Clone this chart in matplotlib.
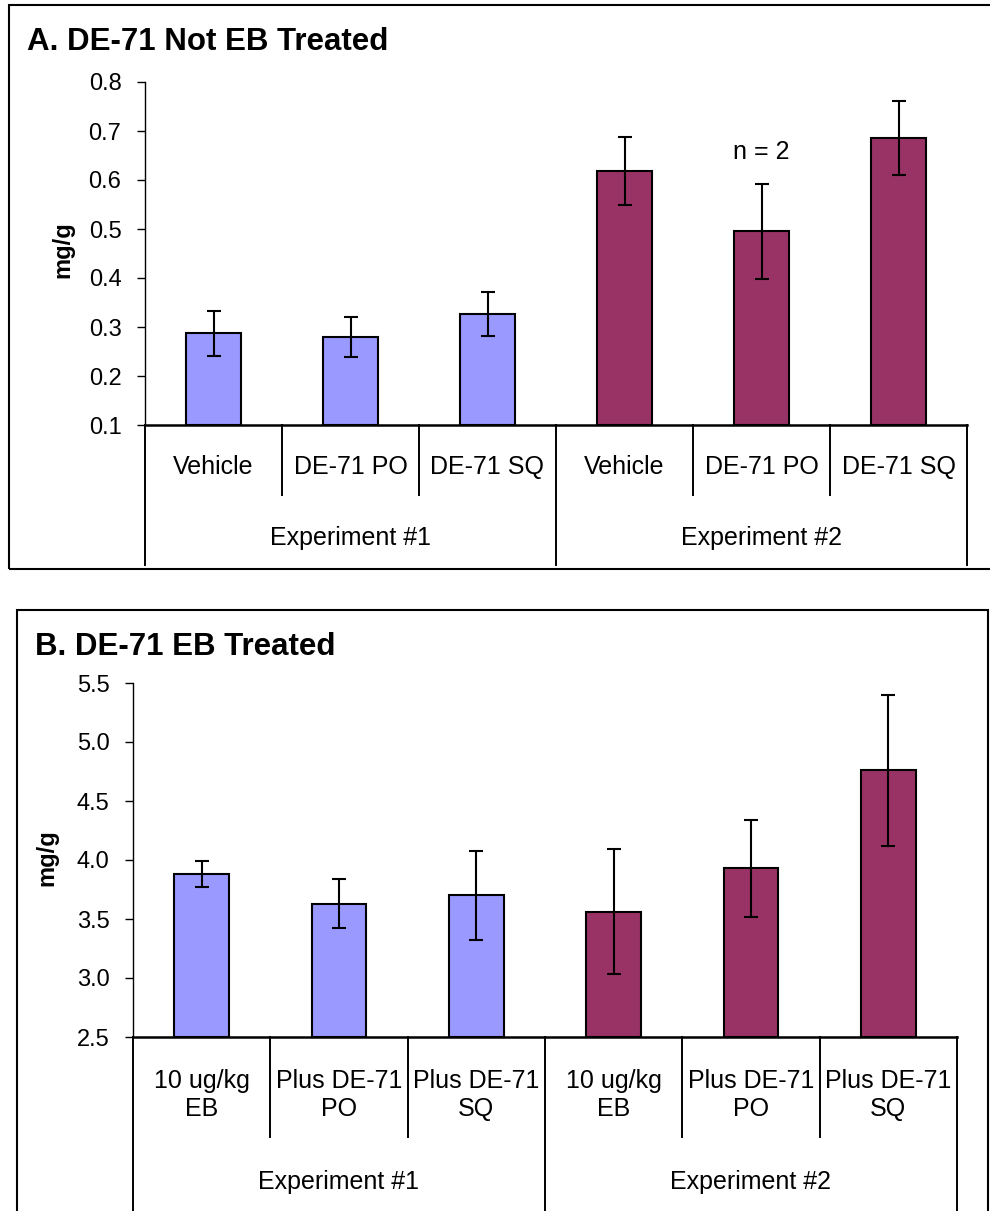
"""Uterine weight bar charts: DE-71 without and with EB treatment, two experiments."""
import numpy as np
import matplotlib
matplotlib.use("Agg")
import matplotlib.pyplot as plt
from matplotlib.patches import Rectangle

plt.rcParams["font.family"] = ["Liberation Sans", "DejaVu Sans"]

W, H = 990, 1211

# ---- data ----
groups = ["Experiment #1", "Experiment #2"]
cats_a = ["Vehicle", "DE-71 PO", "DE-71 SQ", "Vehicle", "DE-71 PO", "DE-71 SQ"]
mean_a = [0.287, 0.279, 0.327, 0.618, 0.495, 0.686]
err_a = [0.046, 0.041, 0.045, 0.070, 0.097, 0.076]

cats_b = ["10 ug/kg\nEB", "Plus DE-71\nPO", "Plus DE-71\nSQ",
          "10 ug/kg\nEB", "Plus DE-71\nPO", "Plus DE-71\nSQ"]
mean_b = [3.88, 3.63, 3.70, 3.56, 3.93, 4.76]
err_b = [0.11, 0.21, 0.38, 0.53, 0.41, 0.64]

colors = ["#9999FF"] * 3 + ["#993366"] * 3


def fx(x):
    return x / W


def fy(y):
    return 1 - y / H


def panel(fig, box, title, title_xy, ylab_xy, cats, mean, err, ylim, step, fmt,
          lab_y, grp_sep_y, grp_lab_y, cat_sep_y):
    x0, y0, x1, y1 = box  # axes box in pixels (left, top, right, bottom)
    ax = fig.add_axes([fx(x0), fy(y1), fx(x1) - fx(x0), fy(y0) - fy(y1)])
    xs = np.arange(len(cats))
    lo, hi = ylim
    ax.bar(xs, np.array(mean) - lo, bottom=lo, width=0.4, color=colors,
           edgecolor="black", linewidth=1.5, zorder=2)
    ax.errorbar(xs, mean, yerr=err, fmt="none", ecolor="black",
                elinewidth=1.5, capsize=5, capthick=1.5, zorder=3)
    ax.set_xlim(-0.5, len(cats) - 0.5)
    ax.set_ylim(lo, hi)
    ticks = np.arange(lo, hi + step / 2, step)
    ax.set_yticks(ticks)
    ax.set_yticklabels([fmt % v for v in ticks])
    ax.tick_params(axis="y", direction="out", length=6, width=1.0,
                   labelsize=17, pad=11)
    ax.set_xticks([])
    for s in ("top", "right"):
        ax.spines[s].set_visible(False)
    ax.spines["left"].set_linewidth(1.0)
    ax.spines["bottom"].set_linewidth(1.8)
    ax.spines["bottom"].set_zorder(4)

    # category table under the x axis
    hpx = y1 - y0
    tr = ax.get_xaxis_transform()
    def af(ypx):
        return (y1 - ypx) / hpx
    for b in np.arange(-0.5, len(cats), 1.0):
        bottom = grp_sep_y if b in (-0.5, 2.5, len(cats) - 0.5) else cat_sep_y
        ax.plot([b, b], [0, af(bottom)], color="black", lw=1.4,
                transform=tr, clip_on=False)
    for i, c in enumerate(cats):
        ax.text(i, af(lab_y), c, transform=tr, ha="center", va="center",
                fontsize=18, linespacing=1.25)
    for g, name in enumerate(groups):
        ax.text(g * 3 + 1, af(grp_lab_y), name, transform=tr, ha="center",
                va="center", fontsize=18)

    fig.text(fx(title_xy[0]), fy(title_xy[1]), title, fontsize=22.5,
             fontweight="bold", ha="left", va="center")
    fig.text(fx(ylab_xy[0]), fy(ylab_xy[1]), "mg/g", fontsize=17,
             fontweight="bold", rotation=90, ha="center", va="center")
    return ax


fig = plt.figure(figsize=(W / 100, H / 100), dpi=100)

# outer frames around each panel
fig.add_artist(Rectangle((fx(9), fy(569)), fx(1000) - fx(9), fy(5) - fy(569),
                         transform=fig.transFigure, fill=False,
                         edgecolor="black", linewidth=1.5))
fig.add_artist(Rectangle((fx(17), fy(1230)), fx(988) - fx(17), fy(610) - fy(1230),
                         transform=fig.transFigure, fill=False,
                         edgecolor="black", linewidth=1.5))

ax_a = panel(fig, (145, 82, 967, 425), "A. DE-71 Not EB Treated", (27, 42),
             (63, 250), cats_a, mean_a, err_a, (0.1, 0.8), 0.1, "%.1f",
             lab_y=467, grp_sep_y=565, grp_lab_y=538, cat_sep_y=495)
ax_a.text(4, 0.657, "n = 2", ha="center", va="center", fontsize=18)

panel(fig, (133, 683, 957, 1037), "B. DE-71 EB Treated", (35, 647),
      (47, 858), cats_b, mean_b, err_b, (2.5, 5.5), 0.5, "%.1f",
      lab_y=1095, grp_sep_y=1230, grp_lab_y=1182, cat_sep_y=1137)

fig.savefig("out.png", dpi=100)
